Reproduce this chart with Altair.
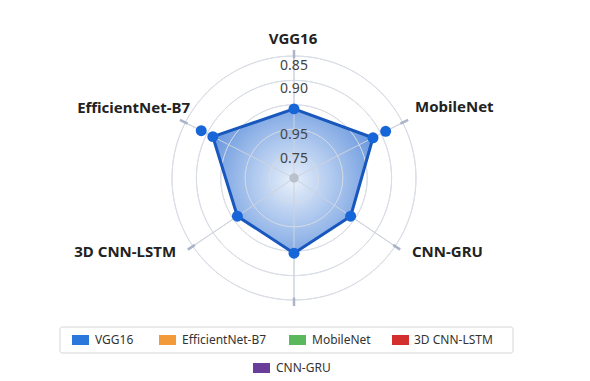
import altair as alt
import pandas as pd
import numpy as np

# ---------------- data ----------------
axis_names = ["VGG16", "MobileNet", "CNN-GRU", "", "3D CNN-LSTM", "EfficientNet-B7"]
series_values = [0.870, 0.918, 0.868, 0.885, 0.868, 0.924]
extra_axis_index = [1, 5]
extra_values = [0.953, 0.956]
ring_values = [0.76, 0.82, 0.88, 0.94, 1.00]
tick_labels = ["0.85", "0.90", "0.95", "0.75"]
legend_names = ["VGG16", "EfficientNet-B7", "MobileNet", "3D CNN-LSTM", "CNN-GRU"]
legend_colors = ["#2b78dc", "#f2993a", "#5cb85c", "#d32f2f", "#6a3d9a"]

# ---------------- layout ----------------
W, H = 590, 381
CX, CY, R = 294, 178, 122
VMIN, VMAX = 0.70, 1.00
axis_angles = [0, 63, 124, 180, 236, 297]
tick_label_radius = [0.918, 0.73, 0.352, 0.156]
label_xy = [(-0.008, 1.139, "center"), (0.992, 0.582, "left"), (0.967, -0.607, "left"),
            (0, 0, "center"), (-0.967, -0.607, "right"), (-0.852, 0.574, "right")]
legend_swatch_x = [72, 159, 289, 392, 253]
legend_text_x = [95, 182, 312, 414, 276]
legend_y = [340, 340, 340, 340, 368]
FONT = "Noto Sans"

xs = alt.Scale(domain=[-CX / R, (W - CX) / R], nice=False, zero=False)
ys = alt.Scale(domain=[-(H - CY) / R, CY / R], nice=False, zero=False)

def XY(xf="x", yf="y"):
    return dict(x=alt.X(f"{xf}:Q", scale=xs, axis=None), y=alt.Y(f"{yf}:Q", scale=ys, axis=None))

# polygon data
poly = pd.DataFrame({"idx": range(6), "angle": axis_angles, "value": series_values})
extra = pd.DataFrame({"angle": [axis_angles[i] for i in extra_axis_index], "value": extra_values})
pts = pd.concat([poly[["angle", "value"]], extra], ignore_index=True)

def to_xy(ch):
    return (ch.transform_calculate(r=f"(datum.value - {VMIN}) / {VMAX - VMIN}")
              .transform_calculate(x="datum.r * sin(datum.angle * PI / 180)",
                                   y="datum.r * cos(datum.angle * PI / 180)"))

# rings
ring_rows = []
for rv in ring_values:
    for a in range(0, 361, 3):
        ring_rows.append({"ring": rv, "angle": a, "value": rv})
rings_df = pd.DataFrame(ring_rows)
rings = to_xy(alt.Chart(rings_df).mark_line(stroke="#d9dde5", strokeWidth=1)).encode(
    **XY(), detail="ring:N", order="angle:Q")

# spokes
spk = pd.DataFrame({"angle": axis_angles, "value": [VMAX] * 6})
spokes = (alt.Chart(spk).mark_rule(stroke="#cdd3de", strokeWidth=1)
          .transform_calculate(x="sin(datum.angle * PI / 180)", y="cos(datum.angle * PI / 180)",
                               x0="0", y0="0")
          .encode(x=alt.X("x0:Q", scale=xs, axis=None), y=alt.Y("y0:Q", scale=ys, axis=None),
                  x2="x:Q", y2="y:Q"))
spoke_ticks = (alt.Chart(spk).mark_rule(stroke="#aab5ca", strokeWidth=2.5)
               .transform_calculate(x="1.05 * sin(datum.angle * PI / 180)", y="1.05 * cos(datum.angle * PI / 180)",
                                    x0="0.98 * sin(datum.angle * PI / 180)", y0="0.98 * cos(datum.angle * PI / 180)")
               .encode(x=alt.X("x0:Q", scale=xs, axis=None), y=alt.Y("y0:Q", scale=ys, axis=None),
                       x2="x:Q", y2="y:Q"))

gradient = {
    "gradient": "radial",
    "x1": 0.5, "y1": 0.5, "r1": 0,
    "x2": 0.5, "y2": 0.5, "r2": 0.6,
    "stops": [{"offset": 0, "color": "#e8f0fb"}, {"offset": 1, "color": "#5f91dc"}],
}
fill = to_xy(alt.Chart(poly).mark_line(interpolate="linear-closed", fill=gradient,
                                       stroke="transparent", strokeWidth=0)).encode(**XY(), order="idx:Q")
outline = to_xy(alt.Chart(poly).mark_line(interpolate="linear-closed", stroke="#1857bd",
                                          strokeWidth=3)).encode(**XY(), order="idx:Q")
dots = to_xy(alt.Chart(pts).mark_circle(size=120, color="#1766d8", opacity=1)).encode(**XY())

center = alt.Chart(pd.DataFrame({"x": [0.0], "y": [0.0]})).mark_circle(
    size=90, color="#b9c1cd", opacity=1).encode(**XY())

tl = pd.DataFrame({"t": tick_labels, "x": [0.0] * 4, "y": tick_label_radius})
ticktext = alt.Chart(tl).mark_text(font=FONT, fontSize=14, color="#444444", baseline="middle").encode(
    **XY(), text="t:N")

lab = pd.DataFrame({"t": axis_names, "x": [p[0] for p in label_xy], "y": [p[1] for p in label_xy],
                    "al": [p[2] for p in label_xy]})
lab = lab[lab["t"] != ""]
labels = []
for al in ["center", "left", "right"]:
    labels.append(alt.Chart(lab[lab["al"] == al]).mark_text(
        font=FONT, fontSize=15, fontWeight="bold", color="#222222", align=al, baseline="middle"
    ).encode(**XY(), text="t:N"))

# legend
leg = pd.DataFrame({"name": legend_names, "color": legend_colors, "sx": legend_swatch_x,
                    "tx": legend_text_x, "ly": legend_y})
box = alt.Chart(pd.DataFrame({"a": [0]})).mark_rect(
    fill="white", stroke="#d6d6d6", strokeWidth=1, cornerRadius=2).encode(
    x=alt.value(60), x2=alt.value(513), y=alt.value(327), y2=alt.value(353))
sw = (alt.Chart(leg).mark_rect()
      .transform_calculate(sx2="datum.sx + 17", y1="datum.ly - 5", y2="datum.ly + 5")
      .encode(x=alt.X("sx:Q", scale=None), x2="sx2:Q", y=alt.Y("y1:Q", scale=None), y2="y2:Q",
              color=alt.Color("color:N", scale=None)))
lt = alt.Chart(leg).mark_text(font=FONT, fontSize=12, color="#333333", align="left", baseline="middle").encode(
    x=alt.X("tx:Q", scale=None), y=alt.Y("ly:Q", scale=None), text="name:N")

chart = alt.layer(rings, spokes, fill, rings, spokes, spoke_ticks, outline, dots, center,
                  ticktext, *labels, box, sw, lt).properties(
    width=W, height=H, autosize=alt.AutoSizeParams(type="none"), padding=0,
    background="white").configure_view(stroke=None)

chart.save("out.html", embed_options={"renderer": "svg", "actions": False})
